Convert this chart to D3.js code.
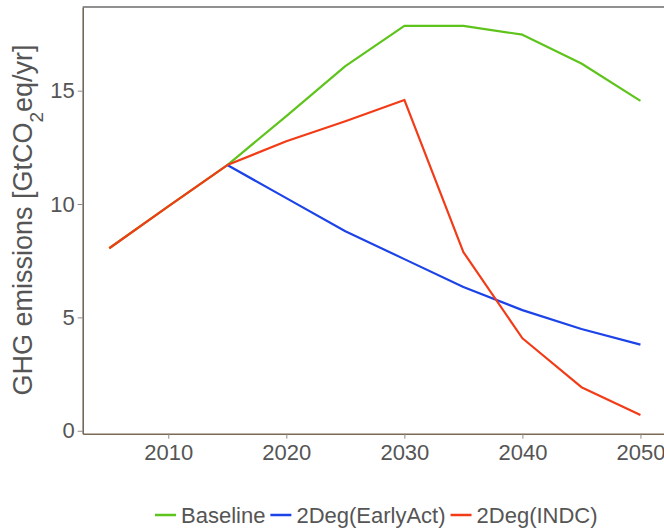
<!DOCTYPE html>
<html>
<head>
<meta charset="utf-8">
<style>
body { margin: 0; background: #fff; }
text { font-family: "Liberation Sans", Arial, sans-serif; }
</style>
</head>
<body>
<div id="chart"></div>
<script src="https://d3js.org/d3.v7.min.js"></script>
<script>
// years and series values
const years = [2005, 2010, 2015, 2020, 2025, 2030, 2035, 2040, 2045, 2050];
const baseline = [8.05, 9.9, 11.72, 13.88, 16.08, 17.86, 17.86, 17.47, 16.2, 14.55];
const earlyAct = [null, null, 11.72, 10.26, 8.8, 7.57, 6.34, 5.32, 4.49, 3.8];
const indc = [8.05, 9.9, 11.72, 12.77, 13.65, 14.59, 7.88, 4.08, 1.92, 0.69];

const seriesNames = ["Baseline", "2Deg(EarlyAct)", "2Deg(INDC)"];
const seriesColors = ["#5ec41c", "#1c43e8", "#f23b17"];
const yTicks = [0, 5, 10, 15];
const xTicks = [2010, 2020, 2030, 2040, 2050];

const width = 664, height = 530;
const mLeft = 82.7, mRight = 667, mTop = 7, mBottom = 433.7;

const svg = d3.select("#chart").append("svg")
  .attr("width", width)
  .attr("height", height);

const x = d3.scaleLinear().domain([2002.75, 2052.25]).range([mLeft, mRight]);
const y = d3.scaleLinear().domain([-0.13, 18.69]).range([mBottom, mTop]);

// panel frame
svg.append("line")
  .attr("x1", mLeft).attr("x2", mRight)
  .attr("y1", mTop).attr("y2", mTop)
  .attr("stroke", "#6b6b6b").attr("stroke-width", 1.6);

// y axis
const yAxis = svg.append("g")
  .attr("transform", `translate(${mLeft},0)`)
  .call(d3.axisLeft(y).tickValues(yTicks).tickSize(5).tickSizeOuter(0).tickPadding(3));
yAxis.select(".domain").attr("stroke", "#736858").attr("stroke-width", 1.6);
yAxis.selectAll(".tick line").attr("stroke", "#8a8a8a");
yAxis.selectAll(".tick text")
  .attr("fill", "#555")
  .style("font-size", "22px")
  .style("font-family", "'Liberation Sans', Arial, sans-serif");

// x axis
const xAxis = svg.append("g")
  .attr("transform", `translate(0,${mBottom})`)
  .call(d3.axisBottom(x).tickValues(xTicks).tickFormat(d3.format("d")).tickSize(5).tickSizeOuter(0).tickPadding(6));
xAxis.select(".domain").attr("stroke", "#7a6a55").attr("stroke-width", 1.6);
xAxis.selectAll(".tick line").attr("stroke", "#8a8a8a");
xAxis.selectAll(".tick text")
  .attr("fill", "#555")
  .style("font-size", "22px")
  .style("font-family", "'Liberation Sans', Arial, sans-serif");

// y axis title
const title = svg.append("text")
  .attr("transform", "translate(32,220) rotate(-90)")
  .attr("text-anchor", "middle")
  .attr("fill", "#555")
  .style("font-size", "27px");
title.append("tspan").text("GHG emissions [GtCO");
title.append("tspan").attr("baseline-shift", "sub").style("font-size", "19px").text("2");
title.append("tspan").text("eq/yr]");

// lines
const allSeries = [baseline, earlyAct, indc];
const line = d3.line()
  .defined(d => d.v != null)
  .x(d => x(d.year))
  .y(d => y(d.v));

allSeries.forEach((vals, i) => {
  const pts = years.map((yr, j) => ({year: yr, v: vals[j]}));
  svg.append("path")
    .datum(pts)
    .attr("fill", "none")
    .attr("stroke", seriesColors[i])
    .attr("stroke-width", 2.2)
    .attr("stroke-linejoin", "round")
    .attr("d", line);
});

// legend
const legend = svg.append("g").attr("transform", "translate(155,515)");
let lx = 0;
seriesNames.forEach((name, i) => {
  legend.append("line")
    .attr("x1", lx).attr("x2", lx + 21)
    .attr("y1", 0).attr("y2", 0)
    .attr("stroke", seriesColors[i])
    .attr("stroke-width", 2.5);
  const t = legend.append("text")
    .attr("x", lx + 26)
    .attr("y", 8)
    .attr("fill", "#555")
    .style("font-size", "22px")
    .text(name);
  lx += 26 + t.node().getComputedTextLength() + 5;
});
</script>
</body>
</html>
